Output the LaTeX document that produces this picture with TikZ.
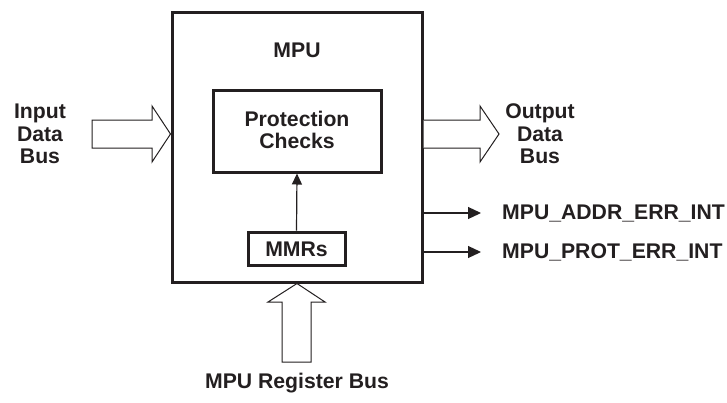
\documentclass[tikz,border=0pt]{standalone}
\usepackage{fontspec}
\setmainfont{Liberation Sans}
\usetikzlibrary{arrows.meta}
\definecolor{ink}{HTML}{231F20}
\begin{document}
\begin{tikzpicture}[x=1pt,y=-1pt,
  lbl/.style={font=\bfseries\fontsize{21.2}{22.5}\selectfont, text=ink, align=center, inner sep=0pt},
  blk/.style={draw=ink, line width=3pt, inner sep=0pt},
  barrow/.style={draw=ink, line width=1pt, fill=white, line join=miter},
  sig/.style={draw=ink, line width=1.2pt, -{Triangle[length=13pt,width=12pt]}}]
\useasboundingbox (0,0) rectangle (727,402);
% main box
\node[blk, minimum width=250pt, minimum height=270pt] (mpu) at (297,147) {};
\node[lbl] (mputxt) at (297,50) {MPU};
\node[blk, minimum width=168pt, minimum height=82pt] (prot) at (297,131) {};
\node[lbl] (prottxt) at (297,130) {Protection\\Checks};
\node[blk, minimum width=97pt, minimum height=33pt] (mmr) at (296.5,248.5) {};
\node[lbl] (mmrtxt) at (296.5,249) {MMRs};
\draw[draw=ink, line width=1.2pt, -{Triangle[length=11pt,width=10pt]}] (mmr.north) -- (prot.south);
% input block arrow
\coordinate (inTip) at (mpu.west |- 0,134);
\draw[barrow] (92,120) -- (152,120) -- (152,106) -- (inTip) -- (152,162) -- (152,148) -- (92,148) -- cycle;
\node[lbl] (intxt) at (40,134) {Input\\Data\\Bus};
% output block arrow
\coordinate (outTop) at (mpu.east |- 0,120);
\coordinate (outBot) at (mpu.east |- 0,148);
\draw[barrow] (outTop) -- (480,120) -- (480,106) -- (499,134) -- (480,162) -- (480,148) -- (outBot);
\node[lbl] (outtxt) at (540,134) {Output\\Data\\Bus};
% signals
\coordinate (s1) at (mpu.east |- 0,213);
\coordinate (s1e) at (481,213);
\coordinate (s2) at (mpu.east |- 0,252);
\coordinate (s2e) at (481,252);
\draw[sig] (s1) -- (s1e);
\draw[sig] (s2) -- (s2e);
\node[lbl, anchor=west] (e1) at (502,213) {MPU\_ADDR\_ERR\_INT};
\node[lbl, anchor=west] (e2) at (502,252) {MPU\_PROT\_ERR\_INT};
% bottom block arrow
\coordinate (botTip) at (mpu.south |- 297,283.5);
\draw[barrow] (282,362) -- (282,302) -- (268,302) -- (botTip) -- (325,302) -- (311,302) -- (311,362) -- cycle;
\node[lbl] (bottxt) at (297,383) {MPU Register Bus};
\end{tikzpicture}
\end{document}
